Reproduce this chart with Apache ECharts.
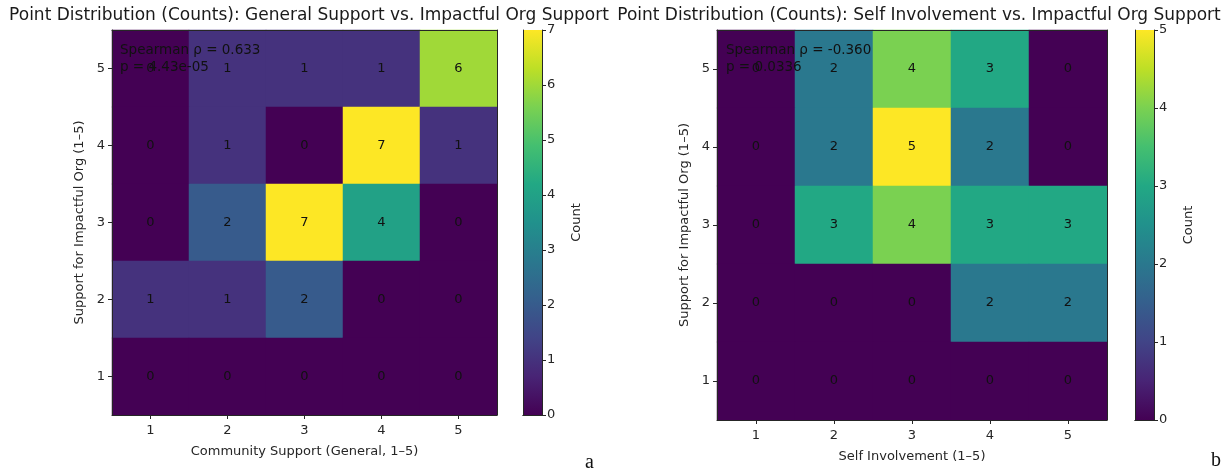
<!DOCTYPE html>
<html>
<head>
<meta charset="utf-8">
<script src="https://cdn.jsdelivr.net/npm/echarts@6/dist/echarts.min.js"></script>
<style>html,body{margin:0;padding:0;background:#fff}#c{width:1224px;height:473px}</style>
</head>
<body>
<div id="c"></div>
<script>
// ---- data ----
const levels = ['1', '2', '3', '4', '5'];
// rows listed from y=5 (top) down to y=1; columns x=1..5
const countsA = [
  [0, 1, 1, 1, 6],
  [0, 1, 0, 7, 1],
  [0, 2, 7, 4, 0],
  [1, 1, 2, 0, 0],
  [0, 0, 0, 0, 0]
];
const countsB = [
  [0, 2, 4, 3, 0],
  [0, 2, 5, 2, 0],
  [0, 3, 4, 3, 3],
  [0, 0, 0, 2, 2],
  [0, 0, 0, 0, 0]
];
const maxA = 7;
const maxB = 5;
const titleA = 'Point Distribution (Counts): General Support vs. Impactful Org Support';
const titleB = 'Point Distribution (Counts): Self Involvement vs. Impactful Org Support';
const xNameA = 'Community Support (General, 1\u20135)';
const xNameB = 'Self Involvement (1\u20135)';
const yName = 'Support for Impactful Org (1\u20135)';
const statsA = ['Spearman \u03c1 = 0.633', 'p = 4.43e-05'];
const statsB = ['Spearman \u03c1 = -0.360', 'p = 0.0336'];

const viridis = ['#440154','#482475','#414487','#355f8d','#2a788e','#21918c','#22a884','#44bf70','#7ad151','#bddf26','#fde725'];

function toCells(m) {
  const out = [];
  m.forEach((row, r) => {
    const yi = 4 - r;
    row.forEach((v, xi) => out.push([xi, yi, v]));
  });
  return out;
}

const FONT = 'DejaVu Sans';
const TXT = '#262626';
const LINE = '#262626';
const FS = 13;

const grids = [
  {left: 112, top: 30, width: 385, height: 385},
  {left: 523, top: 30, width: 19, height: 385},
  {left: 717, top: 30, width: 390, height: 390},
  {left: 1135, top: 30, width: 19, height: 390}
];

const xAxes = [], yAxes = [];
function heatAxes(g, xName) {
  xAxes.push({gridIndex: g, type: 'category', data: levels, position: 'bottom', z: 10,
    axisLine: {show: true, lineStyle: {color: LINE, width: 1}},
    axisTick: {show: true, alignWithLabel: true, length: 4, lineStyle: {color: LINE}},
    axisLabel: {color: TXT, fontSize: FS, fontFamily: FONT, margin: 9},
    splitLine: {show: false},
    name: xName, nameLocation: 'middle', nameGap: 30,
    nameTextStyle: {color: TXT, fontSize: FS, fontFamily: FONT}});
  xAxes.push({gridIndex: g, type: 'category', data: levels, position: 'top', z: 10,
    axisLine: {show: true, lineStyle: {color: LINE, width: 1}},
    axisTick: {show: false}, axisLabel: {show: false}});
  yAxes.push({gridIndex: g, type: 'category', data: levels, position: 'left', z: 10,
    axisLine: {show: true, lineStyle: {color: LINE, width: 1}},
    axisTick: {show: true, alignWithLabel: true, length: 4, lineStyle: {color: LINE}},
    axisLabel: {color: TXT, fontSize: FS, fontFamily: FONT, margin: 7},
    name: yName, nameLocation: 'middle', nameGap: 26, nameRotate: 90,
    nameTextStyle: {color: TXT, fontSize: FS, fontFamily: FONT}});
  yAxes.push({gridIndex: g, type: 'category', data: levels, position: 'right', z: 10,
    axisLine: {show: true, lineStyle: {color: LINE, width: 1}},
    axisTick: {show: false}, axisLabel: {show: false}});
}
function cbAxes(g, max) {
  xAxes.push({gridIndex: g, type: 'category', data: [''], position: 'bottom', z: 10,
    axisLine: {show: true, lineStyle: {color: LINE}}, axisTick: {show: false}, axisLabel: {show: false}});
  xAxes.push({gridIndex: g, type: 'category', data: [''], position: 'top', z: 10,
    axisLine: {show: true, lineStyle: {color: LINE}}, axisTick: {show: false}, axisLabel: {show: false}});
  yAxes.push({gridIndex: g, type: 'value', min: 0, max: max, interval: 1, position: 'right', z: 10,
    axisLine: {show: true, lineStyle: {color: LINE}},
    axisTick: {show: true, length: 4, lineStyle: {color: LINE}},
    axisLabel: {color: TXT, fontSize: FS, fontFamily: FONT, margin: 5},
    splitLine: {show: false},
    name: 'Count', nameLocation: 'middle', nameGap: 28, nameRotate: 90,
    nameTextStyle: {color: TXT, fontSize: FS, fontFamily: FONT}});
  yAxes.push({gridIndex: g, type: 'value', min: 0, max: max, position: 'left', z: 10,
    axisLine: {show: true, lineStyle: {color: LINE}}, axisTick: {show: false}, axisLabel: {show: false},
    splitLine: {show: false}});
}
heatAxes(0, xNameA);   // x 0,1  y 0,1
cbAxes(1, maxA);       // x 2,3  y 2,3
heatAxes(2, xNameB);   // x 4,5  y 4,5
cbAxes(3, maxB);       // x 6,7  y 6,7

const grad = {type: 'linear', x: 0, y: 1, x2: 0, y2: 0,
  colorStops: viridis.map((c, i) => ({offset: i / (viridis.length - 1), color: c}))};

function heatSeries(xi, yi, cells) {
  return {type: 'heatmap', xAxisIndex: xi, yAxisIndex: yi, data: cells,
    label: {show: true, color: '#111111', fontSize: FS, fontFamily: FONT,
      formatter: p => String(p.value[2])},
    itemStyle: {borderWidth: 0}, emphasis: {disabled: true}};
}
function cbSeries(xi, yi, max) {
  return {type: 'bar', xAxisIndex: xi, yAxisIndex: yi, data: [max], barWidth: '100%',
    itemStyle: {color: grad}, silent: true};
}

function statsText(x, lines) {
  return {type: 'text', left: x, top: 42, z: 100,
    style: {text: lines.join('\n'), fill: '#111111', font: '13.5px "DejaVu Sans"', lineHeight: 17}};
}

const option = {
  animation: false,
  backgroundColor: '#ffffff',
  textStyle: {fontFamily: FONT},
  title: [
    {text: titleA, left: 304, top: 2, textAlign: 'center',
      textStyle: {fontSize: 17, fontWeight: 'normal', color: '#1a1a1a', fontFamily: FONT}},
    {text: titleB, left: 914, top: 2, textAlign: 'center',
      textStyle: {fontSize: 17, fontWeight: 'normal', color: '#1a1a1a', fontFamily: FONT}}
  ],
  grid: grids,
  xAxis: xAxes,
  yAxis: yAxes,
  visualMap: [
    {show: false, type: 'continuous', seriesIndex: 0, dimension: 2, min: 0, max: maxA, inRange: {color: viridis}},
    {show: false, type: 'continuous', seriesIndex: 2, dimension: 2, min: 0, max: maxB, inRange: {color: viridis}}
  ],
  series: [
    heatSeries(0, 0, toCells(countsA)),
    cbSeries(2, 2, maxA),
    heatSeries(4, 4, toCells(countsB)),
    cbSeries(6, 6, maxB)
  ],
  graphic: [
    statsText(120, statsA),
    statsText(726, statsB),
    {type: 'text', left: 585, top: 453, style: {text: 'a', fill: '#111', font: '20px "Liberation Serif"'}},
    {type: 'text', left: 1211, top: 451, style: {text: 'b', fill: '#111', font: '20px "Liberation Serif"'}}
  ]
};

const chart = echarts.init(document.getElementById('c'), null, {renderer: 'canvas'});
chart.setOption(option);
</script>
</body>
</html>
